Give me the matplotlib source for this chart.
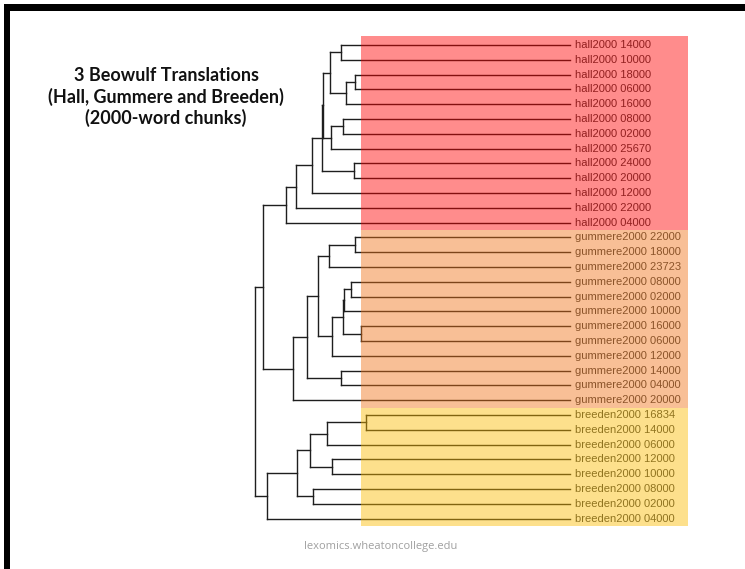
import matplotlib
matplotlib.use("Agg")
from matplotlib import pyplot as plt
from matplotlib.patches import Rectangle

# leaf labels, top to bottom
labels = [
    'hall2000 14000', 'hall2000 10000', 'hall2000 18000', 'hall2000 06000',
    'hall2000 16000', 'hall2000 08000', 'hall2000 02000', 'hall2000 25670',
    'hall2000 24000', 'hall2000 20000', 'hall2000 12000', 'hall2000 22000',
    'hall2000 04000',
    'gummere2000 22000', 'gummere2000 18000', 'gummere2000 23723',
    'gummere2000 08000', 'gummere2000 02000', 'gummere2000 10000',
    'gummere2000 16000', 'gummere2000 06000', 'gummere2000 12000',
    'gummere2000 14000', 'gummere2000 04000', 'gummere2000 20000',
    'breeden2000 16834', 'breeden2000 14000', 'breeden2000 06000',
    'breeden2000 12000', 'breeden2000 10000', 'breeden2000 08000',
    'breeden2000 02000', 'breeden2000 04000',
]

# merges: (left child, right child, height); leaves are 0..32, merge k gets id 33+k
merges = [
    (0, 1, 0.727), (2, 3, 0.683), (34, 4, 0.712), (33, 35, 0.762),
    (5, 6, 0.720), (37, 7, 0.760), (36, 38, 0.783), (8, 9, 0.685),
    (39, 40, 0.788), (41, 10, 0.820), (42, 11, 0.871), (43, 12, 0.903),
    (13, 14, 0.683), (45, 15, 0.765), (16, 17, 0.695), (47, 18, 0.717),
    (19, 20, 0.664), (48, 49, 0.720), (50, 21, 0.757), (46, 51, 0.799),
    (22, 23, 0.728), (52, 53, 0.834), (54, 24, 0.878), (44, 55, 0.974),
    (25, 26, 0.649), (57, 27, 0.772), (28, 29, 0.757), (58, 59, 0.825),
    (30, 31, 0.817), (60, 61, 0.868), (62, 32, 0.963), (56, 63, 1.000),
]

# clusters: (first leaf, last leaf, colour)
groups = [(0, 12, '#ff0000'), (13, 24, '#f07316'), (25, 32, '#fbbb00')]

title = '3 Beowulf Translations\n(Hall, Gummere and Breeden)\n(2000-word chunks)'
footer = 'lexomics.wheatoncollege.edu'

W, H = 745, 569
fig = plt.figure(figsize=(W / 100, H / 100), dpi=100)

# dendrogram axes: height 1 at px 255, height 0 at px 570; leaf 0 at px 45, leaf 32 at px 518.6
ax = fig.add_axes([255 / W, 1 - 518.6 / H, 315 / W, 473.6 / H])
ax.set_xlim(1.0, 0.0)
ax.set_ylim(len(labels) - 1, 0)
ax.axis('off')

n = len(labels)
ypos = {i: float(i) for i in range(n)}
hgt = {i: 0.0 for i in range(n)}
lc = '#1e1e1e'
for k, (a, b, h) in enumerate(merges):
    node = n + k
    for c in (a, b):
        ax.plot([hgt[c], h], [ypos[c], ypos[c]], color=lc, lw=1.0, clip_on=False)
    ax.plot([h, h], [ypos[a], ypos[b]], color=lc, lw=1.0, clip_on=False)
    ypos[node] = (ypos[a] + ypos[b]) / 2
    hgt[node] = h

for i, lab in enumerate(labels):
    ax.annotate(lab, (0, i), xytext=(3.6, 0), textcoords='offset points',
                va='center', ha='left', fontsize=8, color='#3a3a3a',
                family='Liberation Sans', annotation_clip=False)

box_left, box_right = 0.6635, -0.375
for first, last, col in groups:
    top = first - 0.6 if first == 0 else first - 0.5
    ax.add_patch(Rectangle((box_right, top), box_left - box_right, last + 0.5 - top,
                           facecolor=col, alpha=0.45, lw=0, zorder=5, clip_on=False))

fig.text(166 / W, 1 - 97 / H, title, ha='center', va='center', fontsize=13,
         fontweight='bold', family='Lato', linespacing=1.2, color='#111111')
fig.text(381 / W, 1 - 546 / H, footer, ha='center', va='center', fontsize=8,
         family='Open Sans', color='#a0a0a0')

# slide border, top and left
fig.add_artist(Rectangle((4 / W, 0), 6 / W, 1 - 4 / H, transform=fig.transFigure,
                         facecolor='black', lw=0))
fig.add_artist(Rectangle((4 / W, 1 - 11 / H), 1 - 4 / W, 7 / H, transform=fig.transFigure,
                         facecolor='black', lw=0))

fig.savefig('out.png', dpi=100)
